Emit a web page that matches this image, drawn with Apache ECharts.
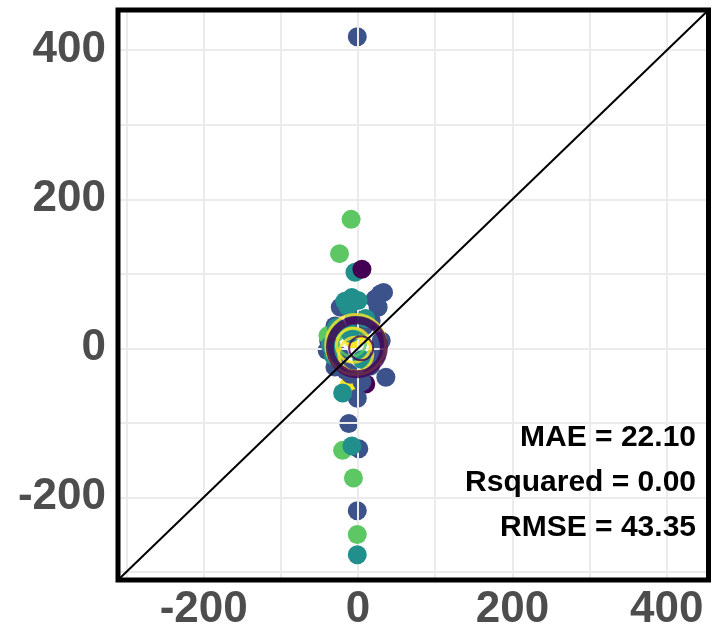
<!DOCTYPE html>
<html>
<head>
<meta charset="utf-8">
<script src="https://cdn.jsdelivr.net/npm/echarts@6/dist/echarts.min.js"></script>
<style>html,body{margin:0;padding:0;background:#fff}#c{width:713px;height:632px}</style>
</head>
<body>
<div id="c"></div>
<script>
// Axis limits (equal on both axes, diagonal y = x)
const axisMin = -311;
const axisMax = 454;
const tickValues = [-200, 0, 200, 400];
const gridValues = [-300, -200, -100, 0, 100, 200, 300, 400];

// Points by colour group [observed(x), predicted(y)]
const pointsBlue = [
  [-1, 418], [-23, 55], [29, 73], [33, 75], [22, 66], [26, 55],
  [-30, 30], [-24, -10], [-16, -30], [16, -24], [23, -10], [30, 10], [17, 37],
  [-40, -3], [-38, 10], [-10, -35], [36, -39], [-1, -67], [-12, -101],
  [1, -135], [-1, -218], [8, 30], [-5, 40], [-30, -25], [5, -45]
];
const pointsGreen = [
  [-9, 173], [-24, 127], [-39, 17], [-20, -137], [-6, -174], [-1, -250],
  [-30, 20]
];
const pointsTeal = [
  [-4, 102], [-17, 63], [-8, 68], [0, 64], [-13, 56], [-36, 4], [-32, -10],
  [-20, -60], [-8, -131], [-1, -277], [-28, 28], [10, 40], [-10, 20], [5, -15]
];
const pointsPurple = [
  [5, 106]
];
const pointsPurpleLow = [
  [10, -48]
];
const pointsYellow = [
  [-12, -50], [-6, 12], [-2, 20]
];
// Large hollow rings at the centre
const ringPurple = [[-1.5, 1.5]];
const ringYellow = [[-3, 5]];
const ringsInnerYellow = [[-6, 4], [-3, -8]];
const ringsInnerGreen = [[-8, 8]];
const ringsInnerPurple = [[4, 0]];

// Annotation text
const statLines = ['MAE = 22.10', 'Rsquared = 0.00', 'RMSE = 43.35'];

const C = {purple:'#440154', blue:'#3b528b', teal:'#21908c', green:'#5dc863', yellow:'#fde725'};

const chart = echarts.init(document.getElementById('c'), null, {renderer:'canvas'});

const gridL = 118, gridT = 10, gridR = 4.5, gridB = 52;
const W = 713, H = 632;

function axis(pos){
  return {
    type:'value', min:axisMin, max:axisMax, position:pos,
    axisLine:{show:false},
    splitLine:{show:false},
    axisTick:{show:true, customValues:tickValues, length:6, inside:false, lineStyle:{color:'#333', width:2}},
    axisLabel:{show:true, customValues:tickValues, color:'#4d4d4d', fontSize:44, fontWeight:'bold',
               fontFamily:'Liberation Sans', margin:pos==='left'?12:8}
  };
}

function scat(data, color, z){
  return {type:'scatter', data, symbolSize:19, z, itemStyle:{color, opacity:1}, silent:true, clip:true};
}
function ring(data, color, size, bw, z){
  return {type:'scatter', data, symbol:'circle', symbolSize:size, z, silent:true,
    itemStyle:{color:'rgba(0,0,0,0)', borderColor:color, borderWidth:bw}};
}

chart.setOption({
  animation:false,
  backgroundColor:'#fff',
  grid:{left:gridL, top:gridT, right:gridR, bottom:gridB, containLabel:false},
  xAxis: axis('bottom'),
  yAxis: axis('left'),
  series:[
    {type:'scatter', data:[], z:1, silent:true,
     markLine:{silent:true, symbol:['none','none'], animation:false, label:{show:false},
       lineStyle:{color:'#ebebeb', width:2, type:'solid'},
       data: gridValues.map(v=>({xAxis:v})).concat(gridValues.map(v=>({yAxis:v})))}},
    scat(pointsYellow, C.yellow, 2),
    scat(pointsPurpleLow, C.purple, 3),
    scat(pointsBlue, C.blue, 4),
    scat(pointsGreen, C.green, 5),
    scat(pointsTeal, C.teal, 6),
    scat(pointsPurple, C.purple, 7),
    ring(ringsInnerGreen, C.green, 28, 3, 9),
    ring(ringsInnerYellow, C.yellow, 34, 3, 10),
    ring(ringsInnerPurple, C.purple, 24, 2, 11),
    ring(ringYellow, C.yellow, 60, 3, 12),
    ring(ringPurple, C.purple, 54, 8, 13),
    {type:'line', data:[[axisMin, axisMin],[axisMax, axisMax]], z:20, symbol:'none', silent:true,
     lineStyle:{color:'#000', width:2}}
  ],
  graphic:[
    {type:'rect', z:100, silent:true,
     shape:{x:gridL, y:gridT, width:W-gridL-gridR, height:H-gridT-gridB},
     style:{fill:null, stroke:'#000', lineWidth:5}},
    ...statLines.map((t,i)=>({type:'text', z:100, silent:true, x:696, y:438 + i*45,
      style:{text:t, fill:'#000', font:'bold 30px "Liberation Sans"', align:'right', verticalAlign:'middle'}}))
  ]
});
</script>
</body>
</html>
